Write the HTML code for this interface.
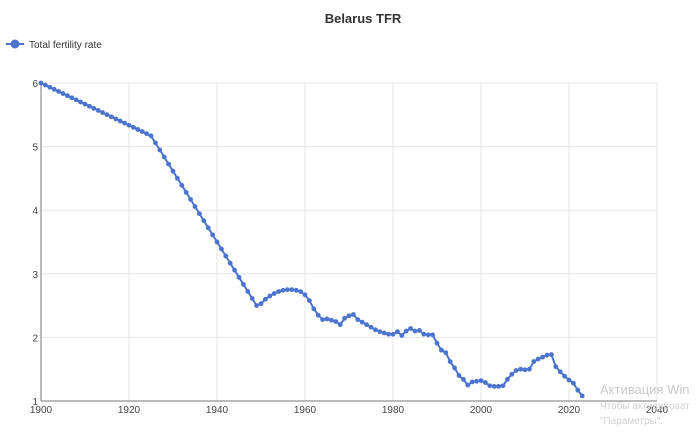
<!DOCTYPE html>
<html><head><meta charset="utf-8"><style>
body{margin:0;background:#fff;width:700px;height:435px;overflow:hidden;font-family:"Liberation Sans",sans-serif;}
</style></head><body>
<svg id="s" width="700" height="435" xmlns="http://www.w3.org/2000/svg" font-family="Liberation Sans, sans-serif">
<text x="363" y="23" text-anchor="middle" font-size="13" font-weight="bold" fill="#333">Belarus TFR</text>
<line x1="6" y1="44" x2="24" y2="44" stroke="#4a74cf" stroke-width="2"/>
<circle cx="15" cy="44" r="4.5" fill="#4a74cf"/>
<text x="29" y="48" font-size="10" fill="#333">Total fertility rate</text>
<g id="g"></g>
<text x="600" y="394" font-size="13" fill="#c8c8c8">Активация Win</text>
<text x="600" y="409" font-size="10" fill="#d0d0d0">Чтобы активироват</text>
<text x="600" y="424" font-size="10" fill="#d0d0d0">"Параметры".</text>
</svg>
<script>
var g=document.getElementById('g'),h='';
function X(y){return 41+(y-1900)*4.4;}function Y(v){return 401-(v-1)*63.6;}
for(var yr=1920;yr<=2040;yr+=20)h+='<line x1="'+X(yr)+'" y1="83" x2="'+X(yr)+'" y2="401" stroke="#e6e6e6"/>';
for(var v=2;v<=6;v++)h+='<line x1="41" y1="'+Y(v)+'" x2="657" y2="'+Y(v)+'" stroke="#e6e6e6"/>';
h+='<line x1="41" y1="83" x2="41" y2="401" stroke="#777"/><line x1="41" y1="401" x2="657" y2="401" stroke="#777"/>';
for(var v=1;v<=6;v++)h+='<text x="38" y="'+(Y(v)+4)+'" text-anchor="end" font-size="10" fill="#444">'+v+'</text>';
for(var yr=1900;yr<=2040;yr+=20)h+='<text x="'+X(yr)+'" y="413" text-anchor="middle" font-size="10" fill="#444">'+yr+'</text>';
var d=[];
for(var y=1900;y<=1925;y++)d.push([y,6-(y-1900)*0.83/25]);
for(var y=1926;y<=1949;y++)d.push([y,5.17-(y-1925)*2.67/24]);
var r=[2.53,2.6,2.65,2.69,2.72,2.74,2.75,2.75,2.74,2.72,2.67,2.58,2.45,2.35,2.28,2.29,2.27,2.25,2.2,2.3,2.34,2.36,2.28,2.24,2.2,2.16,2.12,2.09,2.07,2.05,2.05,2.09,2.03,2.1,2.14,2.1,2.11,2.05,2.04,2.04,1.91,1.8,1.76,1.62,1.52,1.4,1.34,1.25,1.3,1.31,1.32,1.29,1.24,1.23,1.23,1.24,1.34,1.42,1.48,1.5,1.49,1.5,1.62,1.66,1.69,1.72,1.73,1.54,1.46,1.39,1.33,1.28,1.17,1.08];
for(var i=0;i<r.length;i++)d.push([1950+i,r[i]]);
var p=d.map(function(a){return X(a[0]).toFixed(1)+','+Y(a[1]).toFixed(1)}).join(' ');
h+='<polyline points="'+p+'" fill="none" stroke="#4a74cf" stroke-width="2"/>';
d.forEach(function(a){h+='<circle cx="'+X(a[0])+'" cy="'+Y(a[1])+'" r="2.4" fill="#4a74cf"/>';});
g.innerHTML=h;
</script>
</body></html>
